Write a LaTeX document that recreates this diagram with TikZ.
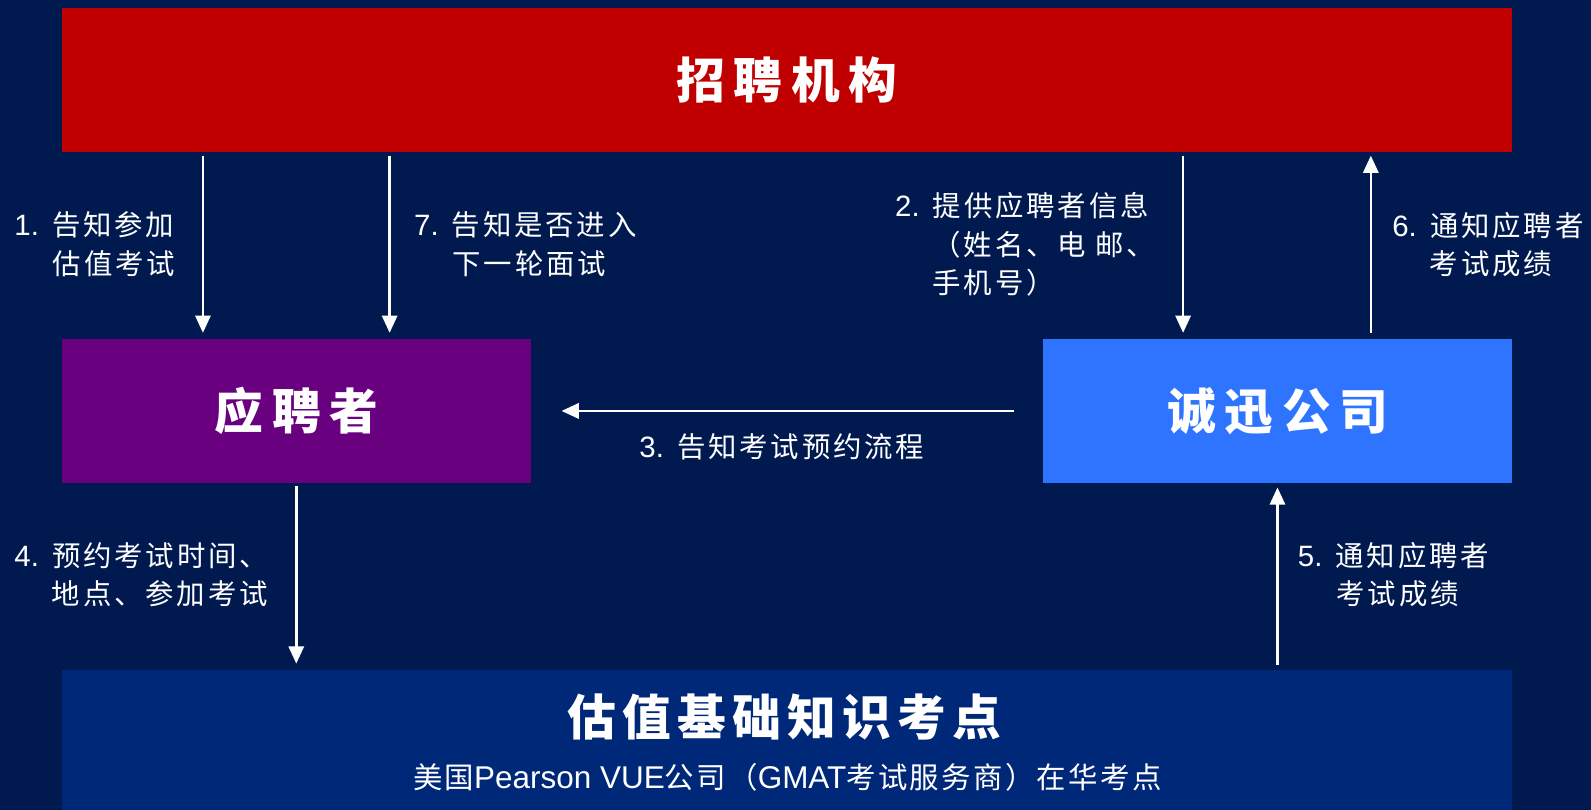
\documentclass[tikz,border=0pt]{standalone}
\usepackage{fontspec}
\setmainfont{Liberation Sans}
\newfontfamily\cjk{Noto Sans CJK SC}[LetterSpace=10]
\newfontfamily\cjks{Noto Sans CJK SC}[LetterSpace=8]
\newfontfamily\cjkt{Noto Sans CJK SC}[LetterSpace=18]
\newfontfamily\cjku{Noto Sans CJK SC}[LetterSpace=13]
\usetikzlibrary{arrows.meta,calc}
\definecolor{bg}{RGB}{0,26,80}
\definecolor{redbox}{RGB}{192,0,0}
\definecolor{purplebox}{RGB}{104,0,128}
\definecolor{bluebox}{RGB}{46,116,255}
\definecolor{sitebox}{RGB}{0,40,120}
\newcommand\cj[1]{{\fontsize{28}{38}\cjk #1}}
\newcommand\cjsub[1]{{\fontsize{29}{30}\cjks #1}}
\newcommand\ttl[1]{{\fontsize{48}{48}\cjkt\bfseries #1}}
\newcommand\ttlb[1]{{\fontsize{48}{48}\cjku\bfseries #1}}
\tikzset{
  box/.style={draw=none, inner sep=0pt, text=white, anchor=north west},
  arr/.style={draw=white, line width=2.5pt, -{Triangle[width=15pt,length=17pt]}},
  lab/.style={anchor=west, inner sep=0pt, text=white, font=\fontsize{29}{38}\selectfont},
}
\begin{document}
\begin{tikzpicture}[x=1pt,y=-1pt]
\useasboundingbox (0,0) rectangle (1568,798);
\fill[bg] (0,0) rectangle (1568,798);
% boxes
\node[box, fill=redbox, minimum width=1429pt, minimum height=142pt] (org) at (61,8) {\ttl{招聘机构}\hspace{2pt}};
\node[box, fill=purplebox, minimum width=462pt, minimum height=142pt] (cand) at (61,334) {\ttl{应聘者}\hspace{2pt}};
\node[box, fill=bluebox, minimum width=462pt, minimum height=142pt] (cx) at (1028,334) {\ttl{诚迅公司}\hspace{2pt}};
\node[box, fill=sitebox, minimum width=1429pt, minimum height=138pt] (site) at (61,660) {};
\node[inner sep=0pt, text=white] (sitet) at (773,707) {\ttlb{估值基础知识考点}};
\node[inner sep=0pt, text=white] (sites) at (776,766) {\cjsub{美国}{\fontsize{31}{30}\selectfont Pearson VUE}\cjsub{公司（}{\fontsize{31}{30}\selectfont GMAT}\cjsub{考试服务商）在华考点}};
% arrow x positions
\coordinate (x1) at (200,0);
\coordinate (x7) at (384,0);
\coordinate (x2) at (1166,0);
\coordinate (x6) at (1351,0);
\coordinate (x4) at (292,0);
\coordinate (x5) at (1259,0);
\coordinate (y3) at (0,405);
% arrows
\draw[arr] ($(org.south -| x1)+(0,3)$) -- ($(cand.north -| x1)+(0,-6)$);
\draw[arr] ($(org.south -| x7)+(0,3)$) -- ($(cand.north -| x7)+(0,-6)$);
\draw[arr] ($(org.south -| x2)+(0,3)$) -- ($(cx.north -| x2)+(0,-6)$);
\draw[arr] ($(cx.north -| x6)+(0,-6)$) -- ($(org.south -| x6)+(0,3)$);
\draw[arr] ($(cx.west |- y3)+(-29,0)$) -- ($(cand.east |- y3)+(30,0)$);
\draw[arr] ($(cand.south -| x4)+(0,3)$) -- ($(site.north -| x4)+(0,-6)$);
\draw[arr] ($(site.north -| x5)+(0,-5)$) -- ($(cx.south -| x5)+(0,4)$);
% labels
\node[lab] (l1a) at (14,222) {1.\hspace{13pt}\cj{告知参加}};
\node[lab] (l1b) at (52,260) {\cj{估值考试}};
\node[lab] (l7a) at (408,222) {7.\hspace{13pt}\cj{告知是否进入}};
\node[lab] (l7b) at (446,260) {\cj{下一轮面试}};
\node[lab] (l2a) at (882,203) {2.\hspace{13pt}\cj{提供应聘者信息}};
\node[lab] (l2b) at (919,241) {\cj{（姓名、电 邮、}};
\node[lab] (l2c) at (919,279) {\cj{手机号）}};
\node[lab] (l6a) at (1372,222) {6.\hspace{13pt}\cj{通知应聘者}};
\node[lab] (l6b) at (1409,260) {\cj{考试成绩}};
\node[lab] (l3) at (630,440) {3.\hspace{13pt}\cj{告知考试预约流程}};
\node[lab] (l4a) at (14,548) {4.\hspace{13pt}\cj{预约考试时间、}};
\node[lab] (l4b) at (51,585) {\cj{地点、参加考试}};
\node[lab] (l5a) at (1279,548) {5.\hspace{13pt}\cj{通知应聘者}};
\node[lab] (l5b) at (1317,585) {\cj{考试成绩}};
\end{tikzpicture}
\end{document}
